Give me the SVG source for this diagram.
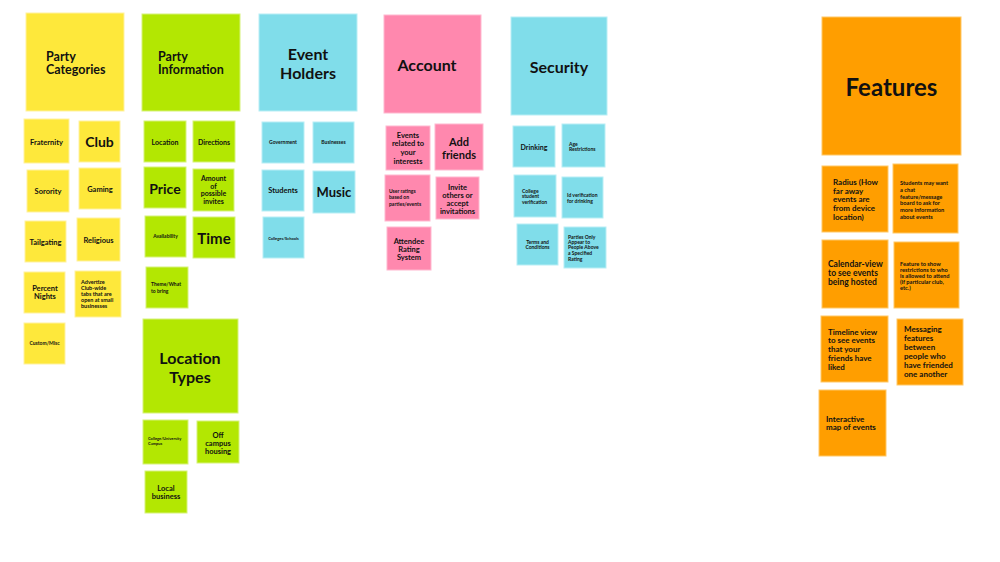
<svg xmlns="http://www.w3.org/2000/svg" width="1000" height="562" viewBox="0 0 1000 562">
<style>
text{font-family:Lato,"Open Sans","Liberation Sans",sans-serif;font-weight:700;fill:#111;dominant-baseline:central}
.c{text-anchor:middle}
.y rect{fill:#FEE83B;stroke:#FFF2A0;stroke-width:1}
.g rect{fill:#B3E702;stroke:#D6F27A;stroke-width:1}
.b rect{fill:#80DDEA;stroke:#B8EEF5;stroke-width:1}
.p rect{fill:#FF88AE;stroke:#FFB8CF;stroke-width:1}
.o rect{fill:#FF9E00;stroke:#FFC866;stroke-width:1}
</style>
<rect width="1000" height="562" fill="#fff"/>

<!-- Party Categories -->
<g id="party-categories" class="y"><rect x="26" y="13" width="98" height="98"/><text x="46" y="56" font-size="12.5">Party</text><text x="46" y="69" font-size="12.5">Categories</text></g>
<g id="fraternity" class="y"><rect x="24" y="119" width="45" height="44"/><text class="c" x="46.5" y="142" font-size="7.5">Fraternity</text></g>
<g id="club" class="y"><rect x="79" y="121" width="41" height="41"/><text class="c" x="99.5" y="141" font-size="14">Club</text></g>
<g id="sorority" class="y"><rect x="27" y="170" width="42" height="42"/><text class="c" x="48" y="191" font-size="7.5">Sorority</text></g>
<g id="gaming" class="y"><rect x="79" y="168" width="42" height="41"/><text class="c" x="100" y="189" font-size="7.5">Gaming</text></g>
<g id="tailgating" class="y"><rect x="25" y="221" width="41" height="41"/><text class="c" x="45.5" y="242" font-size="7.5">Tailgating</text></g>
<g id="religious" class="y"><rect x="77" y="218" width="43" height="43"/><text class="c" x="98.5" y="240" font-size="7.5">Religious</text></g>
<g id="percent-nights" class="y"><rect x="24" y="272" width="41" height="41"/><text class="c" x="45" y="288" font-size="7.5">Percent</text><text class="c" x="45" y="296" font-size="7.5">Nights</text></g>
<g id="advertize" class="y"><rect x="75" y="271" width="46" height="46"/><text x="81" y="282" font-size="5.5">Advertize</text><text x="81" y="288" font-size="5.5">Club-wide</text><text x="81" y="294" font-size="5.5">tabs that are</text><text x="81" y="300" font-size="5.5">open at small</text><text x="81" y="306" font-size="5.5">businesses</text></g>
<g id="custom-misc" class="y"><rect x="24" y="323" width="41" height="41"/><text class="c" x="44.5" y="343" font-size="5">Custom/Misc</text></g>

<!-- Party Information -->
<g id="party-information" class="g"><rect x="142" y="14" width="98" height="97"/><text x="158" y="56" font-size="12.5">Party</text><text x="158" y="69" font-size="12.5">Information</text></g>
<g id="location" class="g"><rect x="144" y="121" width="42" height="41"/><text class="c" x="165" y="142" font-size="7">Location</text></g>
<g id="directions" class="g"><rect x="193" y="121" width="42" height="41"/><text class="c" x="214" y="142" font-size="7">Directions</text></g>
<g id="price" class="g"><rect x="144" y="167" width="42" height="41"/><text class="c" x="165" y="188" font-size="14">Price</text></g>
<g id="amount" class="g"><rect x="193" y="169" width="41" height="42"/><text class="c" x="213.5" y="178" font-size="7">Amount</text><text class="c" x="213.5" y="186" font-size="7">of</text><text class="c" x="213.5" y="193" font-size="7">possible</text><text class="c" x="213.5" y="201" font-size="7">invites</text></g>
<g id="availability" class="g"><rect x="145" y="216" width="41" height="41"/><text class="c" x="165.5" y="236" font-size="5">Availability</text></g>
<g id="time" class="g"><rect x="193" y="217" width="42" height="41"/><text class="c" x="214" y="238" font-size="15">Time</text></g>
<g id="theme" class="g"><rect x="146" y="267" width="42" height="41"/><text x="151" y="284" font-size="5">Theme/What</text><text x="151" y="291" font-size="5">to bring</text></g>

<!-- Location Types -->
<g id="location-types" class="g"><rect x="143" y="319" width="95" height="94"/><text class="c" x="190" y="357" font-size="16">Location</text><text class="c" x="190" y="376" font-size="16">Types</text></g>
<g id="college-campus" class="g"><rect x="143" y="420" width="45" height="44"/><text x="148" y="438" font-size="4">College/University</text><text x="148" y="443" font-size="4">Campus</text></g>
<g id="off-campus" class="g"><rect x="197" y="421" width="42" height="42"/><text class="c" x="218" y="435" font-size="7.5">Off</text><text class="c" x="218" y="443" font-size="7.5">campus</text><text class="c" x="218" y="451" font-size="7.5">housing</text></g>
<g id="local-business" class="g"><rect x="145" y="471" width="42" height="42"/><text class="c" x="166" y="488" font-size="7.5">Local</text><text class="c" x="166" y="496" font-size="7.5">business</text></g>

<!-- Event Holders -->
<g id="event-holders" class="b"><rect x="259" y="14" width="98" height="97"/><text class="c" x="308" y="53" font-size="16">Event</text><text class="c" x="308" y="72" font-size="16">Holders</text></g>
<g id="government" class="b"><rect x="262" y="122" width="42" height="41"/><text class="c" x="283" y="142" font-size="5">Government</text></g>
<g id="businesses" class="b"><rect x="313" y="122" width="41" height="41"/><text class="c" x="333.5" y="142" font-size="5">Businesses</text></g>
<g id="students" class="b"><rect x="262" y="170" width="42" height="41"/><text class="c" x="283" y="190" font-size="7.5">Students</text></g>
<g id="music" class="b"><rect x="313" y="171" width="42" height="42"/><text class="c" x="334" y="192" font-size="13">Music</text></g>
<g id="colleges-schools" class="b"><rect x="263" y="217" width="41" height="41"/><text class="c" x="283.5" y="238" font-size="4">Colleges/Schools</text></g>

<!-- Account -->
<g id="account" class="p"><rect x="384" y="15" width="97" height="98"/><text class="c" x="427" y="64" font-size="16">Account</text></g>
<g id="events-related" class="p"><rect x="386" y="126" width="44" height="44"/><text class="c" x="408" y="135" font-size="7.5">Events</text><text class="c" x="408" y="143" font-size="7.5">related to</text><text class="c" x="408" y="152" font-size="7.5">your</text><text class="c" x="408" y="161" font-size="7.5">interests</text></g>
<g id="add-friends" class="p"><rect x="435" y="124" width="48" height="46"/><text class="c" x="459" y="141" font-size="11">Add</text><text class="c" x="459" y="154" font-size="11">friends</text></g>
<g id="user-ratings" class="p"><rect x="385" y="175" width="45" height="46"/><text x="389" y="191" font-size="5">User ratings</text><text x="389" y="197" font-size="5">based on</text><text x="389" y="204" font-size="5">parties/events</text></g>
<g id="invite-others" class="p"><rect x="436" y="177" width="43" height="42"/><text class="c" x="457.5" y="187" font-size="7.5">Invite</text><text class="c" x="457.5" y="195" font-size="7.5">others or</text><text class="c" x="457.5" y="203" font-size="7.5">accept</text><text class="c" x="457.5" y="211" font-size="7.5">invitations</text></g>
<g id="attendee-rating" class="p"><rect x="387" y="227" width="44" height="43"/><text class="c" x="409" y="241" font-size="7.5">Attendee</text><text class="c" x="409" y="249" font-size="7.5">Rating</text><text class="c" x="409" y="257" font-size="7.5">System</text></g>

<!-- Security -->
<g id="security" class="b"><rect x="511" y="17" width="96" height="98"/><text class="c" x="559" y="66" font-size="16">Security</text></g>
<g id="drinking" class="b"><rect x="513" y="126" width="42" height="41"/><text class="c" x="534" y="147" font-size="7">Drinking</text></g>
<g id="age-restrictions" class="b"><rect x="562" y="124" width="43" height="43"/><text x="569" y="144" font-size="5">Age</text><text x="569" y="149" font-size="5">Restrictions</text></g>
<g id="college-verification" class="b"><rect x="514" y="175" width="42" height="42"/><text x="522" y="191" font-size="5">College</text><text x="522" y="196" font-size="5">student</text><text x="522" y="202" font-size="5">verification</text></g>
<g id="id-verification" class="b"><rect x="562" y="177" width="41" height="41"/><text x="567" y="195" font-size="5">Id verification</text><text x="567" y="201" font-size="5">for drinking</text></g>
<g id="terms" class="b"><rect x="517" y="224" width="41" height="41"/><text class="c" x="537.5" y="242" font-size="5">Terms and</text><text class="c" x="537.5" y="247" font-size="5">Conditions</text></g>
<g id="parties-only" class="b"><rect x="564" y="227" width="42" height="41"/><text x="568" y="237" font-size="5">Parties Only</text><text x="568" y="242" font-size="5">Appear to</text><text x="568" y="247" font-size="5">People Above</text><text x="568" y="253" font-size="5">a Specified</text><text x="568" y="259" font-size="5">Rating</text></g>

<!-- Features -->
<g id="features" class="o"><rect x="822" y="17" width="139" height="138"/><text class="c" x="891.5" y="86" font-size="24">Features</text></g>
<g id="radius" class="o"><rect x="822" y="166" width="66" height="66"/><text x="833" y="182" font-size="8">Radius (How</text><text x="833" y="191" font-size="8">far away</text><text x="833" y="199" font-size="8">events are</text><text x="833" y="208" font-size="8">from device</text><text x="833" y="217" font-size="8">location)</text></g>
<g id="chat-feature" class="o"><rect x="893" y="164" width="65" height="69"/><text x="900" y="182" font-size="5.7">Students may want</text><text x="900" y="189" font-size="5.7">a chat</text><text x="900" y="196" font-size="5.7">feature/message</text><text x="900" y="202" font-size="5.7">board to ask for</text><text x="900" y="209" font-size="5.7">more information</text><text x="900" y="216" font-size="5.7">about events</text></g>
<g id="calendar-view" class="o"><rect x="822" y="240" width="66" height="68"/><text x="828" y="264" font-size="8.5">Calendar-view</text><text x="828" y="273" font-size="8.5">to see events</text><text x="828" y="282" font-size="8.5">being hosted</text></g>
<g id="feature-restrictions" class="o"><rect x="894" y="242" width="65" height="66"/><text x="900" y="263" font-size="5.7">Feature to show</text><text x="900" y="269" font-size="5.7">restrictions to who</text><text x="900" y="275" font-size="5.7">is allowed to attend</text><text x="900" y="281" font-size="5.7">(if particular club,</text><text x="900" y="287" font-size="5.7">etc.)</text></g>
<g id="timeline-view" class="o"><rect x="821" y="316" width="67" height="66"/><text x="828" y="332" font-size="8">Timeline view</text><text x="828" y="340" font-size="8">to see events</text><text x="828" y="349" font-size="8">that your</text><text x="828" y="358" font-size="8">friends have</text><text x="828" y="367" font-size="8">liked</text></g>
<g id="messaging" class="o"><rect x="897" y="319" width="66" height="66"/><text x="904" y="329" font-size="8">Messaging</text><text x="904" y="338" font-size="8">features</text><text x="904" y="347" font-size="8">between</text><text x="904" y="356" font-size="8">people who</text><text x="904" y="365" font-size="8">have friended</text><text x="904" y="374" font-size="8">one another</text></g>
<g id="interactive-map" class="o"><rect x="819" y="390" width="67" height="66"/><text x="826" y="419" font-size="8">Interactive</text><text x="826" y="427" font-size="8">map of events</text></g>

<g id="connectors"></g>
</svg>
